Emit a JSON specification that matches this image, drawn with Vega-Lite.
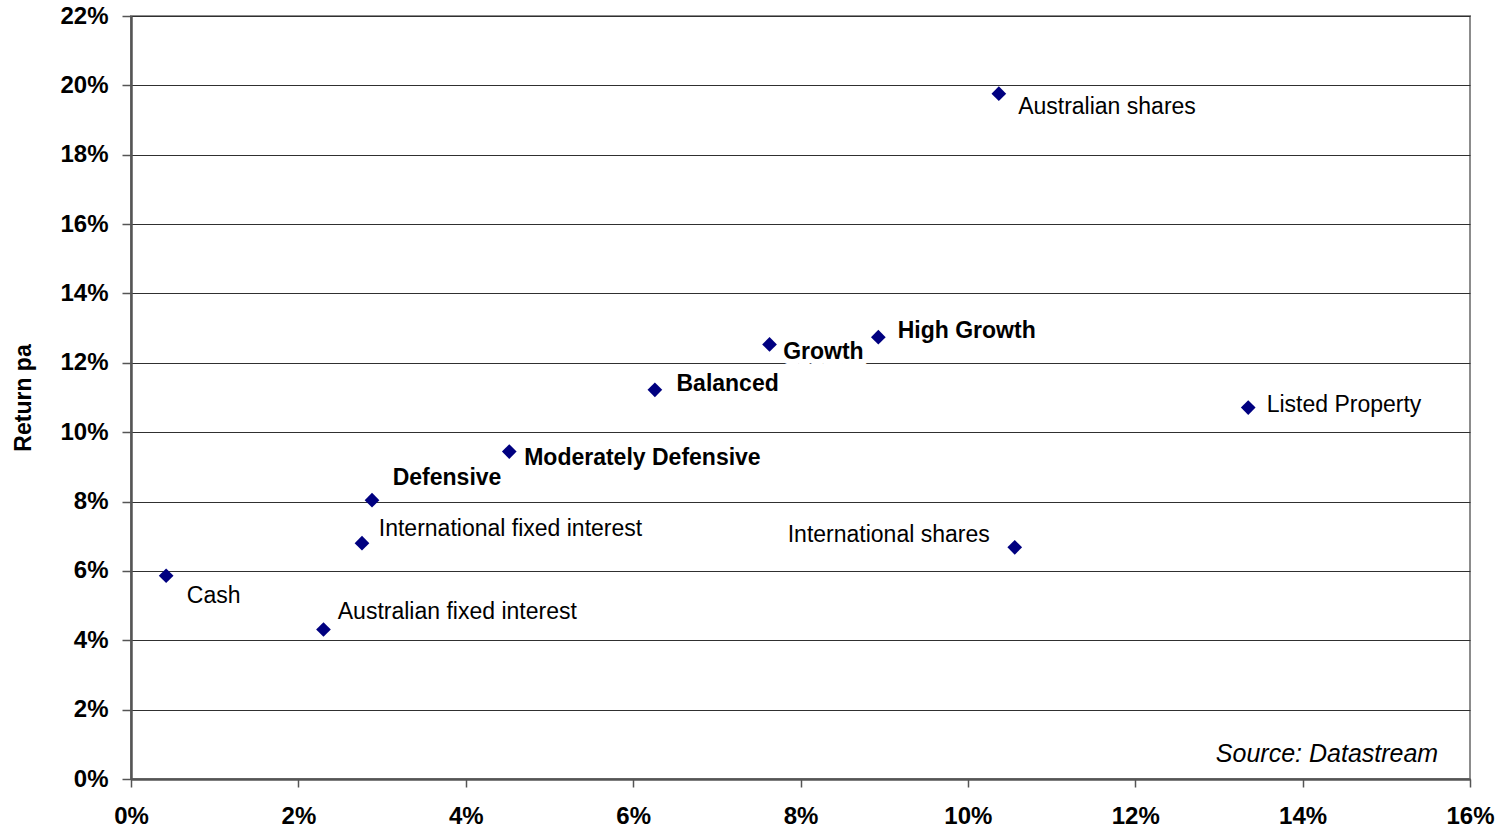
{
  "$schema": "https://vega.github.io/schema/vega-lite/v6.json",
  "width": 1339,
  "height": 763,
  "autosize": {"type": "none"},
  "padding": {"left": 131, "top": 16, "right": 33, "bottom": 52},
  "background": "white",
  "config": {
    "view": {"stroke": "#8c8c8c", "strokeWidth": 2},
    "font": "Liberation Sans",
    "axis": {
      "labelFont": "Liberation Sans",
      "labelFontSize": 24,
      "labelFontWeight": "bold",
      "labelColor": "#000000",
      "labelFlush": false,
      "labelOverlap": false,
      "domainColor": "#555555",
      "domainWidth": 2.5,
      "tickColor": "#555555",
      "tickWidth": 1.5,
      "tickSize": 9,
      "titleFont": "Liberation Sans",
      "titleColor": "#000000"
    }
  },
  "data": {
    "values": [
      {"name": "Cash", "kind": "Asset class", "risk": 0.0042, "ret": 0.0586},
      {"name": "Australian fixed interest", "kind": "Asset class", "risk": 0.023, "ret": 0.0431},
      {"name": "International fixed interest", "kind": "Asset class", "risk": 0.0276, "ret": 0.068},
      {"name": "Defensive", "kind": "Diversified", "risk": 0.0288, "ret": 0.0804},
      {"name": "Moderately Defensive", "kind": "Diversified", "risk": 0.0452, "ret": 0.0944},
      {"name": "Balanced", "kind": "Diversified", "risk": 0.0626, "ret": 0.1122},
      {"name": "Growth", "kind": "Diversified", "risk": 0.0763, "ret": 0.1253},
      {"name": "High Growth", "kind": "Diversified", "risk": 0.0893, "ret": 0.1274},
      {"name": "Australian shares", "kind": "Asset class", "risk": 0.1037, "ret": 0.1976},
      {"name": "International shares", "kind": "Asset class", "risk": 0.1056, "ret": 0.0668},
      {"name": "Listed Property", "kind": "Asset class", "risk": 0.1335, "ret": 0.1071}
    ]
  },
  "encoding": {
    "x": {
      "field": "risk",
      "type": "quantitative",
      "scale": {"domain": [0, 0.16], "nice": false, "zero": true},
      "axis": {
        "title": null,
        "grid": false,
        "format": ".0%",
        "values": [0, 0.02, 0.04, 0.06, 0.08, 0.1, 0.12, 0.14, 0.16],
        "tickSize": 8,
        "labelPadding": 17
      }
    },
    "y": {
      "field": "ret",
      "type": "quantitative",
      "scale": {"domain": [0, 0.22], "nice": false, "zero": true},
      "axis": {
        "title": "Return pa",
        "titleFontSize": 23,
        "titleFontWeight": "bold",
        "titleX": -96,
        "titleBaseline": "bottom",
        "grid": true,
        "gridColor": "#303030",
        "gridWidth": 1,
        "format": ".0%",
        "values": [0, 0.02, 0.04, 0.06, 0.08, 0.1, 0.12, 0.14, 0.16, 0.18, 0.2, 0.22],
        "labelPadding": 14
      }
    }
  },
  "layer": [
    {
      "mark": {"type": "point", "shape": "diamond", "filled": true, "size": 216, "color": "#000080", "opacity": 1}
    },
    {
      "transform": [{"filter": "datum.name === 'Growth'"}],
      "mark": {"type": "text", "align": "left", "baseline": "alphabetic", "dx": 13.6, "dy": 14.7, "fontSize": 23, "fontWeight": "bold", "fill": "white", "stroke": "white", "strokeWidth": 12, "strokeJoin": "round"},
      "encoding": {"text": {"field": "name"}}
    },
    {
      "transform": [{"filter": "datum.name === 'Cash'"}],
      "mark": {"type": "text", "align": "left", "baseline": "alphabetic", "dx": 20.7, "dy": 27.6, "fontSize": 23, "color": "#000000"},
      "encoding": {"text": {"field": "name"}}
    },
    {
      "transform": [{"filter": "datum.name === 'Australian fixed interest'"}],
      "mark": {"type": "text", "align": "left", "baseline": "alphabetic", "dx": 14.3, "dy": -11, "fontSize": 23, "color": "#000000"},
      "encoding": {"text": {"field": "name"}}
    },
    {
      "transform": [{"filter": "datum.name === 'International fixed interest'"}],
      "mark": {"type": "text", "align": "left", "baseline": "alphabetic", "dx": 16.8, "dy": -7.6, "fontSize": 23, "color": "#000000"},
      "encoding": {"text": {"field": "name"}}
    },
    {
      "transform": [{"filter": "datum.name === 'Defensive'"}],
      "mark": {"type": "text", "align": "left", "baseline": "alphabetic", "dx": 20.7, "dy": -15, "fontSize": 23, "fontWeight": "bold", "color": "#000000"},
      "encoding": {"text": {"field": "name"}}
    },
    {
      "transform": [{"filter": "datum.name === 'Moderately Defensive'"}],
      "mark": {"type": "text", "align": "left", "baseline": "alphabetic", "dx": 14.9, "dy": 13.3, "fontSize": 23, "fontWeight": "bold", "color": "#000000"},
      "encoding": {"text": {"field": "name"}}
    },
    {
      "transform": [{"filter": "datum.name === 'Balanced'"}],
      "mark": {"type": "text", "align": "left", "baseline": "alphabetic", "dx": 21.6, "dy": 1, "fontSize": 23, "fontWeight": "bold", "color": "#000000"},
      "encoding": {"text": {"field": "name"}}
    },
    {
      "transform": [{"filter": "datum.name === 'Growth'"}],
      "mark": {"type": "text", "align": "left", "baseline": "alphabetic", "dx": 13.6, "dy": 14.7, "fontSize": 23, "fontWeight": "bold", "color": "#000000"},
      "encoding": {"text": {"field": "name"}}
    },
    {
      "transform": [{"filter": "datum.name === 'High Growth'"}],
      "mark": {"type": "text", "align": "left", "baseline": "alphabetic", "dx": 19.4, "dy": 1, "fontSize": 23, "fontWeight": "bold", "color": "#000000"},
      "encoding": {"text": {"field": "name"}}
    },
    {
      "transform": [{"filter": "datum.name === 'Australian shares'"}],
      "mark": {"type": "text", "align": "left", "baseline": "alphabetic", "dx": 19.3, "dy": 20.6, "fontSize": 23, "color": "#000000"},
      "encoding": {"text": {"field": "name"}}
    },
    {
      "transform": [{"filter": "datum.name === 'International shares'"}],
      "mark": {"type": "text", "align": "right", "baseline": "alphabetic", "dx": -25, "dy": -5, "fontSize": 23, "color": "#000000"},
      "encoding": {"text": {"field": "name"}}
    },
    {
      "transform": [{"filter": "datum.name === 'Listed Property'"}],
      "mark": {"type": "text", "align": "left", "baseline": "alphabetic", "dx": 18.4, "dy": 4.6, "fontSize": 23, "color": "#000000"},
      "encoding": {"text": {"field": "name"}}
    },
    {
      "data": {"values": [{"note": "Source: Datastream", "risk": 0.1562, "ret": 0.005}]},
      "mark": {"type": "text", "align": "right", "baseline": "alphabetic", "fontSize": 25, "fontStyle": "italic", "color": "#000000"},
      "encoding": {"text": {"field": "note"}}
    }
  ]
}
